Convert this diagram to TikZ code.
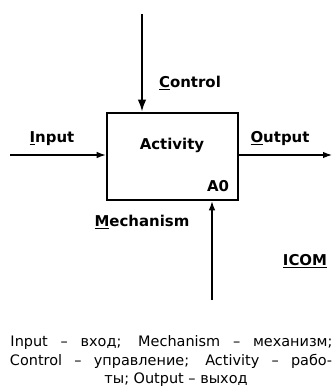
\documentclass[tikz,border=0pt]{standalone}
\usepackage{fontspec}
\setmainfont{DejaVu Sans}
\usetikzlibrary{arrows.meta}
\tikzset{
  lbl/.style={font=\fontsize{15}{17}\selectfont\bfseries, inner sep=0pt},
  captext/.style={font=\fontsize{14.5}{16}\selectfont, inner sep=0pt},
  arr/.style={-{Latex[length=9bp,width=6.5bp]}, line width=1.2pt},
  carr/.style={-{Latex[length=12bp,width=8.5bp]}, line width=2pt},
  actbox/.style={draw, line width=2.6pt, minimum width=131bp, minimum height=87bp, inner sep=0pt}
}
\begin{document}
\begin{tikzpicture}[x=1bp,y=-1bp]
\useasboundingbox (0,0) rectangle (335,390);
\node[actbox] (box) at (172.5,156.5) {};
\node[lbl] (act) at (172,145) {Activity};
\node[lbl] (a0) at (218,186) {A0};
\coordinate (ctop) at (142,14);
\coordinate (inl) at (10,155);
\coordinate (outr) at (332,155);
\coordinate (mbot) at (212,300);
\draw[carr] (ctop) -- (ctop |- box.north);
\draw[arr] (inl) -- (inl -| box.west);
\draw[arr] (outr -| box.east) -- (outr);
\draw[arr] (mbot) -- (mbot |- box.south);
\node[lbl] (lc) at (190,83) {\underline{C}ontrol};
\node[lbl] (li) at (52,139) {\underline{I}nput};
\node[lbl] (lo) at (280,139) {\underline{O}utput};
\node[lbl] (lm) at (142,222) {\underline{M}echanism};
\node[lbl] (licom) at (305,261) {\underline{ICOM}};
\node[captext] (c1) at (171.5,343) {\makebox[322bp][s]{Input – вход; Mechanism – механизм;}};
\node[captext] (c2) at (171,361.5) {\makebox[322bp][s]{Control – управление; Activity – рабо-}};
\node[captext] (c3) at (176,380) {ты; Output – выход};
\end{tikzpicture}
\end{document}
